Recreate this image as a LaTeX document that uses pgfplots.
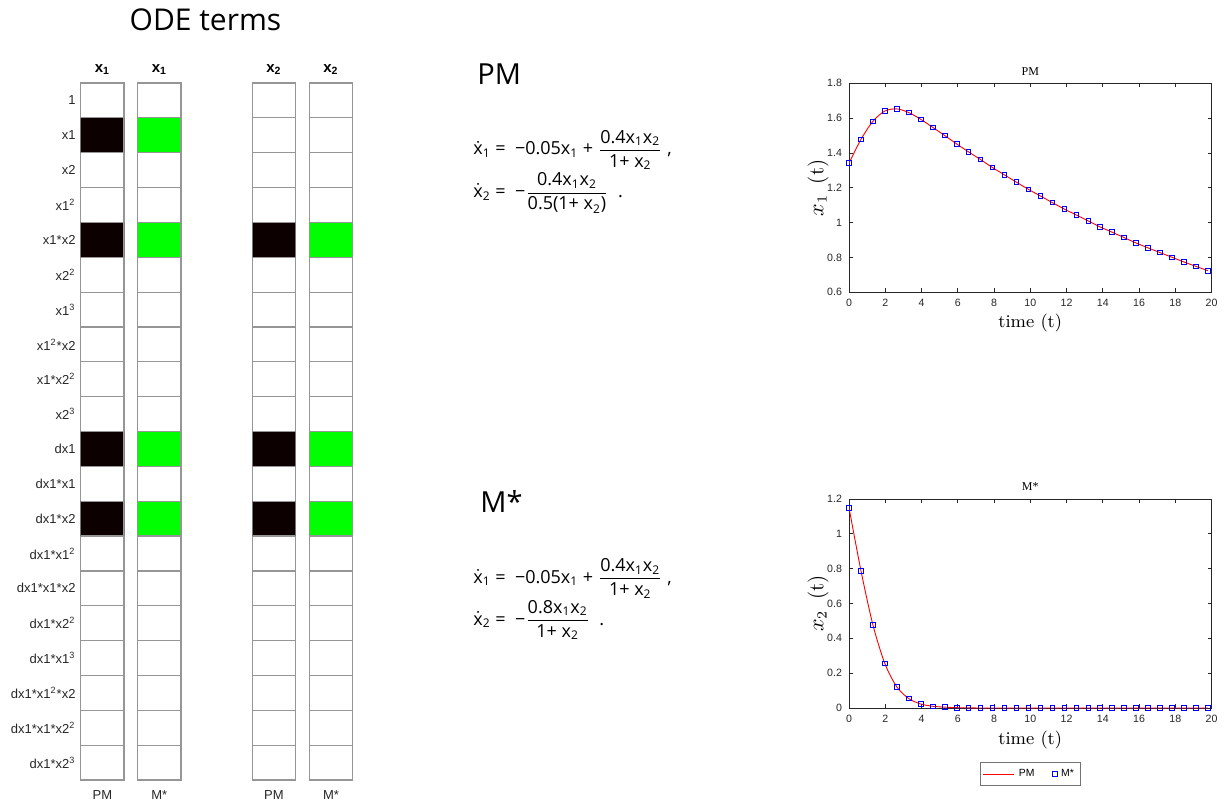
\documentclass[border=0pt]{standalone}
\usepackage{amsmath}
\usepackage{fontspec}
\usepackage{pgfplots}
\usepackage{pgfplotstable}
\pgfplotsset{compat=1.18}
\newfontfamily\arialf{Liberation Sans}
\newfontfamily\timesf{Liberation Serif}
\newfontfamily\eqf{Open Sans}
\definecolor{cellgray}{RGB}{150,150,150}
\definecolor{axc}{RGB}{38,38,38}
\definecolor{mgreen}{RGB}{0,255,0}
\definecolor{cblack}{RGB}{12,0,0}

\pgfplotstableread{
t x1 x2
0 1.341 1.150
0.66 1.478 0.788
1.32 1.582 0.477
1.98 1.641 0.255
2.64 1.653 0.121
3.30 1.632 0.054
3.96 1.593 0.023
4.62 1.547 0.010
5.28 1.500 0.005
5.94 1.452 0.002
6.60 1.406 0.001
7.26 1.362 0
7.92 1.316 0
8.58 1.274 0
9.24 1.232 0
9.90 1.191 0
10.56 1.153 0
11.22 1.115 0
11.88 1.078 0
12.54 1.044 0
13.20 1.010 0
13.86 0.975 0
14.52 0.945 0
15.18 0.914 0
15.84 0.883 0
16.50 0.855 0
17.16 0.828 0
17.82 0.801 0
18.48 0.774 0
19.14 0.749 0
19.80 0.724 0
}\traj

% filled cells: row centres (row k -> k-0.5)
\pgfplotstableread{
v r
1 1.5
1 4.5
1 10.5
1 12.5
}\termsxone
\pgfplotstableread{
v r
1 4.5
1 10.5
1 12.5
}\termsxtwo

\pgfplotsset{
  gridcol/.style={
    scale only axis, width=21.65pt, height=348.5pt, anchor=south west,
    xmin=0, xmax=1, ymin=0, ymax=20, y dir=reverse,
    xtick=\empty, ytick={0.5,1.5,...,19.5}, yticklabels={},
    minor ytick={1,2,...,19}, yminorgrids=true,
    major tick length=0pt, minor tick length=0pt,
    axis line style={draw=cellgray, line width=0.6pt},
    minor y grid style={draw=cellgray, line width=0.6pt},
    every axis title/.style={at={(axis description cs:0.5,1)}, anchor=base, yshift=5.5pt,
      font=\arialf\fontsize{7.5}{9}\selectfont},
    xlabel style={at={(axis description cs:0.5,0)}, anchor=base, yshift=-9.7pt,
      font=\arialf\fontsize{6.5}{8}\selectfont, text=black!85},
    yticklabel style={font=\arialf\fontsize{6.5}{8}\selectfont, text=black!85, inner sep=0pt, xshift=-2.4pt},
  },
  tplot/.style={
    scale only axis, width=181.25pt, height=104.5pt, anchor=south west,
    xmin=0, xmax=20, xtick={0,2,4,6,8,10,12,14,16,18,20},
    tick align=inside, major tick length=2pt,
    axis line style={draw=axc, line width=0.4pt},
    every tick/.style={draw=axc, line width=0.4pt},
    ticklabel style={font=\arialf\fontsize{5.3}{6}\selectfont, text=axc},
    /pgf/number format/assume math mode=true,
    xlabel style={font=\fontsize{9}{10}\selectfont, anchor=center},
    ylabel style={font=\fontsize{10.5}{12}\selectfont, anchor=center},
    ylabel style={at={(axis description cs:-0.0855,0.5)}},
  },
  pmline/.style={red, line width=0.45pt, smooth, no markers},
  mstar/.style={only marks, mark=square, mark size=1.15pt, mark options={draw=blue, line width=0.45pt}},
}

\begin{document}
\begin{tikzpicture}
\path[use as bounding box] (0,0) rectangle (614.5pt,402.5pt);

\node[font=\eqf\fontsize{15}{18}\selectfont, anchor=base, inner sep=0pt] at (102.75pt,387.15pt) {ODE terms};

% ---- term grid ----
\begin{axis}[gridcol, at={(40.35pt,12.5pt)},
  title={\textbf{x}\textsubscript{\textbf{1}}}, xlabel={PM},
  yticklabels={1,x1,x2,x1\textsuperscript{2},x1*x2,x2\textsuperscript{2},x1\textsuperscript{3},x1\textsuperscript{2}*x2,x1*x2\textsuperscript{2},x2\textsuperscript{3},dx1,dx1*x1,dx1*x2,dx1*x1\textsuperscript{2},dx1*x1*x2,dx1*x2\textsuperscript{2},dx1*x1\textsuperscript{3},dx1*x1\textsuperscript{2}*x2,dx1*x1*x2\textsuperscript{2},dx1*x2\textsuperscript{3}}]
\addplot[xbar, bar width=1, fill=cblack, draw=cellgray, line width=0.6pt] table[x=v, y=r] {\termsxone};
\end{axis}
\begin{axis}[gridcol, at={(68.85pt,12.5pt)},
  title={\textbf{x}\textsubscript{\textbf{1}}}, xlabel={M*}]
\addplot[xbar, bar width=1, fill=mgreen, draw=cellgray, line width=0.6pt] table[x=v, y=r] {\termsxone};
\end{axis}
\begin{axis}[gridcol, at={(126.15pt,12.5pt)},
  title={\textbf{x}\textsubscript{\textbf{2}}}, xlabel={PM}]
\addplot[xbar, bar width=1, fill=cblack, draw=cellgray, line width=0.6pt] table[x=v, y=r] {\termsxtwo};
\end{axis}
\begin{axis}[gridcol, at={(154.65pt,12.5pt)},
  title={\textbf{x}\textsubscript{\textbf{2}}}, xlabel={M*}]
\addplot[xbar, bar width=1, fill=mgreen, draw=cellgray, line width=0.6pt] table[x=v, y=r] {\termsxtwo};
\end{axis}

% ---- equations ----
\node[font=\eqf\fontsize{14.5}{17}\selectfont, anchor=base west, inner sep=0pt] at (238.5pt,360pt) {PM};
\node[font=\eqf\fontsize{9}{11}\selectfont, anchor=west, inner sep=0pt] at (236.5pt,327.5pt)
  {$\dot{\text{x}}_{\text{1}}\text{ = \ −0.05x}_{\text{1}}\text{ + }\dfrac{\text{0.4x}_{\text{1}}\text{x}_{\text{2}}}{\text{1+ x}_{\text{2}}}\text{ ,}$};
\node[font=\eqf\fontsize{9}{11}\selectfont, anchor=west, inner sep=0pt] at (236.5pt,305.85pt)
  {$\dot{\text{x}}_{\text{2}}\text{ = \ −}\dfrac{\text{0.4x}_{\text{1}}\text{x}_{\text{2}}}{\text{0.5(1+ x}_{\text{2}}\text{)}}\text{ \ .}$};

\node[font=\eqf\fontsize{14.5}{17}\selectfont, anchor=base west, inner sep=0pt] at (240pt,146.5pt) {M*};
\node[font=\eqf\fontsize{9}{11}\selectfont, anchor=west, inner sep=0pt] at (236.5pt,113.35pt)
  {$\dot{\text{x}}_{\text{1}}\text{ = \ −0.05x}_{\text{1}}\text{ + }\dfrac{\text{0.4x}_{\text{1}}\text{x}_{\text{2}}}{\text{1+ x}_{\text{2}}}\text{ ,}$};
\node[font=\eqf\fontsize{9}{11}\selectfont, anchor=west, inner sep=0pt] at (236.5pt,92.5pt)
  {$\dot{\text{x}}_{\text{2}}\text{ = \ −}\dfrac{\text{0.8x}_{\text{1}}\text{x}_{\text{2}}}{\text{1+ x}_{\text{2}}}\text{ \ .}$};

% ---- trajectories ----
\begin{axis}[tplot, at={(424.5pt,256.35pt)},
  ymin=0.6, ymax=1.8, ytick={0.6,0.8,1,1.2,1.4,1.6,1.8},
  title={PM},
  every axis title/.style={at={(axis description cs:0.5,1.0555)}, anchor=center, font=\timesf\fontsize{6}{7}\selectfont},
  xlabel={time (t)}, xlabel style={at={(axis description cs:0.5,-0.148)}},
  ylabel={$x_1$\ \,(t)}]
\addplot[pmline] table[x=t, y=x1] {\traj};
\addplot[mstar] table[x=t, y=x1] {\traj};
\end{axis}

\begin{axis}[tplot, at={(424.5pt,48.5pt)},
  ymin=0, ymax=1.2, ytick={0,0.2,0.4,0.6,0.8,1,1.2},
  title={M*},
  every axis title/.style={at={(axis description cs:0.5,1.06)}, anchor=center, font=\timesf\fontsize{6}{7}\selectfont},
  xlabel={time (t)}, xlabel style={at={(axis description cs:0.5,-0.155)}},
  ylabel={$x_2$\ \,(t)},
  legend columns=2,
  legend style={at={(axis description cs:0.5,-0.2587)}, anchor=north, draw=black!55, line width=0.4pt,
    font=\arialf\fontsize{5.2}{6}\selectfont, inner sep=1.2pt,
    /tikz/every even column/.append style={column sep=7pt}},
  legend image code/.code={\draw[#1] (0cm,0cm) -- (0.55cm,0cm);}]
\addplot[pmline] table[x=t, y=x2] {\traj};
\addlegendentry{PM}
\addplot[mstar, legend image code/.code={\draw[mark repeat=2,mark phase=2] plot coordinates {(0cm,0cm) (0.25cm,0cm) (0.5cm,0cm)};}] table[x=t, y=x2] {\traj};
\addlegendentry{M*}
\end{axis}
\end{tikzpicture}
\end{document}
